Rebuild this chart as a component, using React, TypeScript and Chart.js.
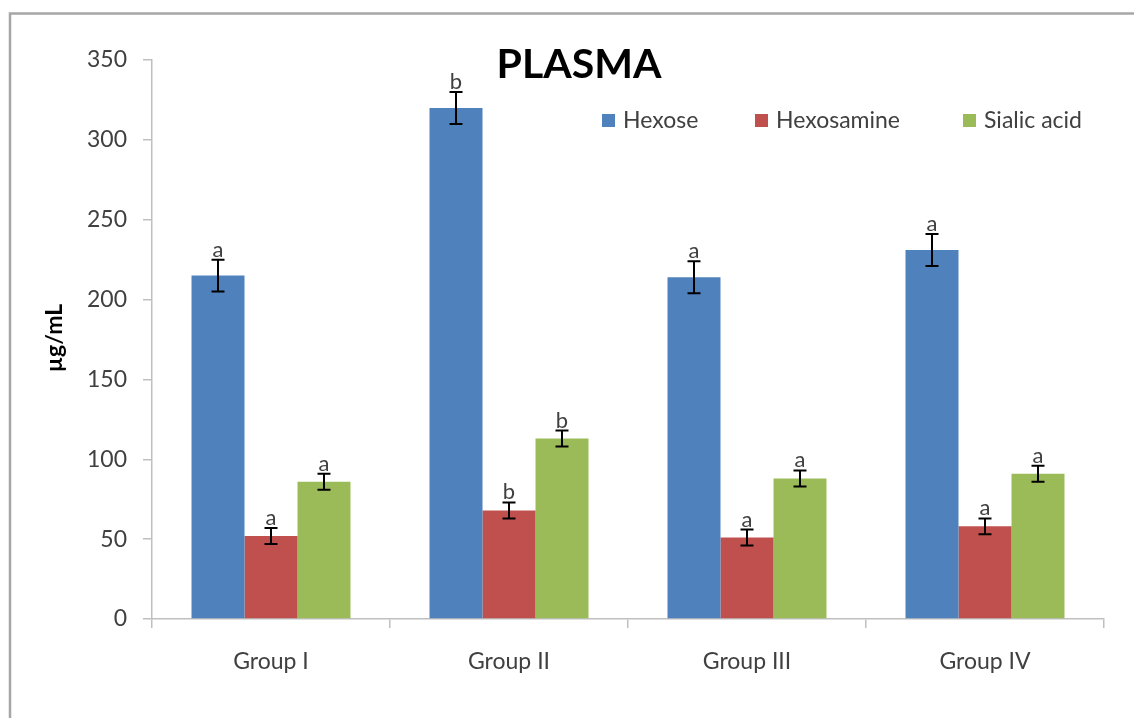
import React, { useEffect, useRef } from "react";
import { Chart, registerables } from "chart.js";
Chart.register(...registerables);

const categories = ["Group I", "Group II", "Group III", "Group IV"];
const seriesNames = ["Hexose", "Hexosamine", "Sialic acid"];
const hexose = [215, 320, 214, 231];
const hexoseErr = [10, 10, 10, 10];
const hexosamine = [52, 68, 51, 58];
const hexosamineErr = [5, 5, 5, 5];
const sialic = [86, 113, 88, 91];
const sialicErr = [5, 5, 5, 5];
const hexoseLetters = ["a", "b", "a", "a"];
const hexosamineLetters = ["a", "b", "a", "a"];
const sialicLetters = ["a", "b", "a", "a"];
const yTicks = [0, 50, 100, 150, 200, 250, 300, 350];

const colors = ["#4F81BD", "#C0504D", "#9BBB59"];
const FONT = "Lato, 'Open Sans', sans-serif";

export default function App() {
  const ref = useRef<HTMLCanvasElement>(null);
  useEffect(() => {
    const errs = [hexoseErr, hexosamineErr, sialicErr];
    const letters = [hexoseLetters, hexosamineLetters, sialicLetters];
    const overlay = {
      id: "overlay",
      afterDraw(chart: any) {
        const ctx = chart.ctx;
        const y = chart.scales.y;
        ctx.save();
        // outer frame
        ctx.strokeStyle = "#a6a6a6";
        ctx.lineWidth = 2.5;
        ctx.beginPath();
        ctx.moveTo(10, 718);
        ctx.lineTo(10, 13.5);
        ctx.lineTo(1134, 13.5);
        ctx.stroke();
        // error bars & letters
        chart.data.datasets.forEach((ds: any, i: number) => {
          const meta = chart.getDatasetMeta(i);
          meta.data.forEach((bar: any, j: number) => {
            const v = ds.data[j];
            const e = errs[i][j];
            const yt = y.getPixelForValue(v + e);
            const yb = y.getPixelForValue(v - e);
            const x = bar.x;
            ctx.strokeStyle = "#000";
            ctx.lineWidth = 2;
            ctx.beginPath();
            ctx.moveTo(x, yt);
            ctx.lineTo(x, yb);
            ctx.moveTo(x - 6.5, yt);
            ctx.lineTo(x + 6.5, yt);
            ctx.moveTo(x - 6.5, yb);
            ctx.lineTo(x + 6.5, yb);
            ctx.stroke();
            ctx.fillStyle = "#404040";
            ctx.font = `22px ${FONT}`;
            ctx.textAlign = "center";
            ctx.textBaseline = "alphabetic";
            ctx.fillText(letters[i][j], x, yt - 3);
          });
        });
        // title
        ctx.fillStyle = "#000";
        ctx.font = `bold 41px ${FONT}`;
        ctx.textAlign = "center";
        ctx.textBaseline = "middle";
        ctx.fillText("PLASMA", 579, 65);
        // y title
        ctx.save();
        ctx.translate(55, 338);
        ctx.rotate(-Math.PI / 2);
        ctx.font = `bold 23px ${FONT}`;
        ctx.fillStyle = "#000";
        ctx.fillText("µg/mL", 0, 0);
        ctx.restore();
        // legend
        const lx = [602, 755, 963];
        ctx.font = `23px ${FONT}`;
        ctx.textAlign = "left";
        ctx.textBaseline = "middle";
        seriesNames.forEach((n, i) => {
          ctx.fillStyle = colors[i];
          ctx.fillRect(lx[i], 114, 13, 13);
          ctx.fillStyle = "#404040";
          ctx.fillText(n, lx[i] + 21, 121);
        });
        ctx.restore();
      },
    };
    const chart = new Chart(ref.current!, {
      type: "bar",
      data: {
        labels: categories,
        datasets: [
          { label: seriesNames[0], data: hexose, backgroundColor: colors[0] },
          { label: seriesNames[1], data: hexosamine, backgroundColor: colors[1] },
          { label: seriesNames[2], data: sialic, backgroundColor: colors[2] },
        ],
      },
      options: {
        responsive: false,
        animation: false,
        layout: { padding: { top: 60, right: 30, left: 0, bottom: 0 } },
        plugins: { legend: { display: false }, title: { display: false }, tooltip: { enabled: false } },
        datasets: { bar: { categoryPercentage: 0.668, barPercentage: 1 } },
        scales: {
          x: {
            grid: { drawOnChartArea: false, drawTicks: true, tickLength: 9, color: "#bfbfbf", lineWidth: 1.5 },
            border: { color: "#bfbfbf", width: 1.5 },
            ticks: { font: { family: FONT, size: 23 }, color: "#404040", padding: 20 },
            afterFit(scale: any) {
              scale.height = 99;
            },
          },
          y: {
            min: 0,
            max: 350,
            afterBuildTicks(scale: any) {
              scale.ticks = yTicks.map((v) => ({ value: v }));
            },
            grid: { drawOnChartArea: false, drawTicks: true, tickLength: 9, color: "#bfbfbf", lineWidth: 1.5 },
            border: { color: "#bfbfbf", width: 1.5 },
            ticks: { font: { family: FONT, size: 23 }, color: "#404040", padding: 16 },
            afterFit(scale: any) {
              scale.width = 152;
            },
          },
        },
      },
      plugins: [overlay],
    });
    return () => chart.destroy();
  }, []);
  return (
    <div style={{ position: "fixed", left: 0, top: 0, width: 1134, height: 718, background: "#fff" }}>
      <canvas ref={ref} width={1134} height={718} style={{ width: 1134, height: 718, display: "block" }} />
    </div>
  );
}
